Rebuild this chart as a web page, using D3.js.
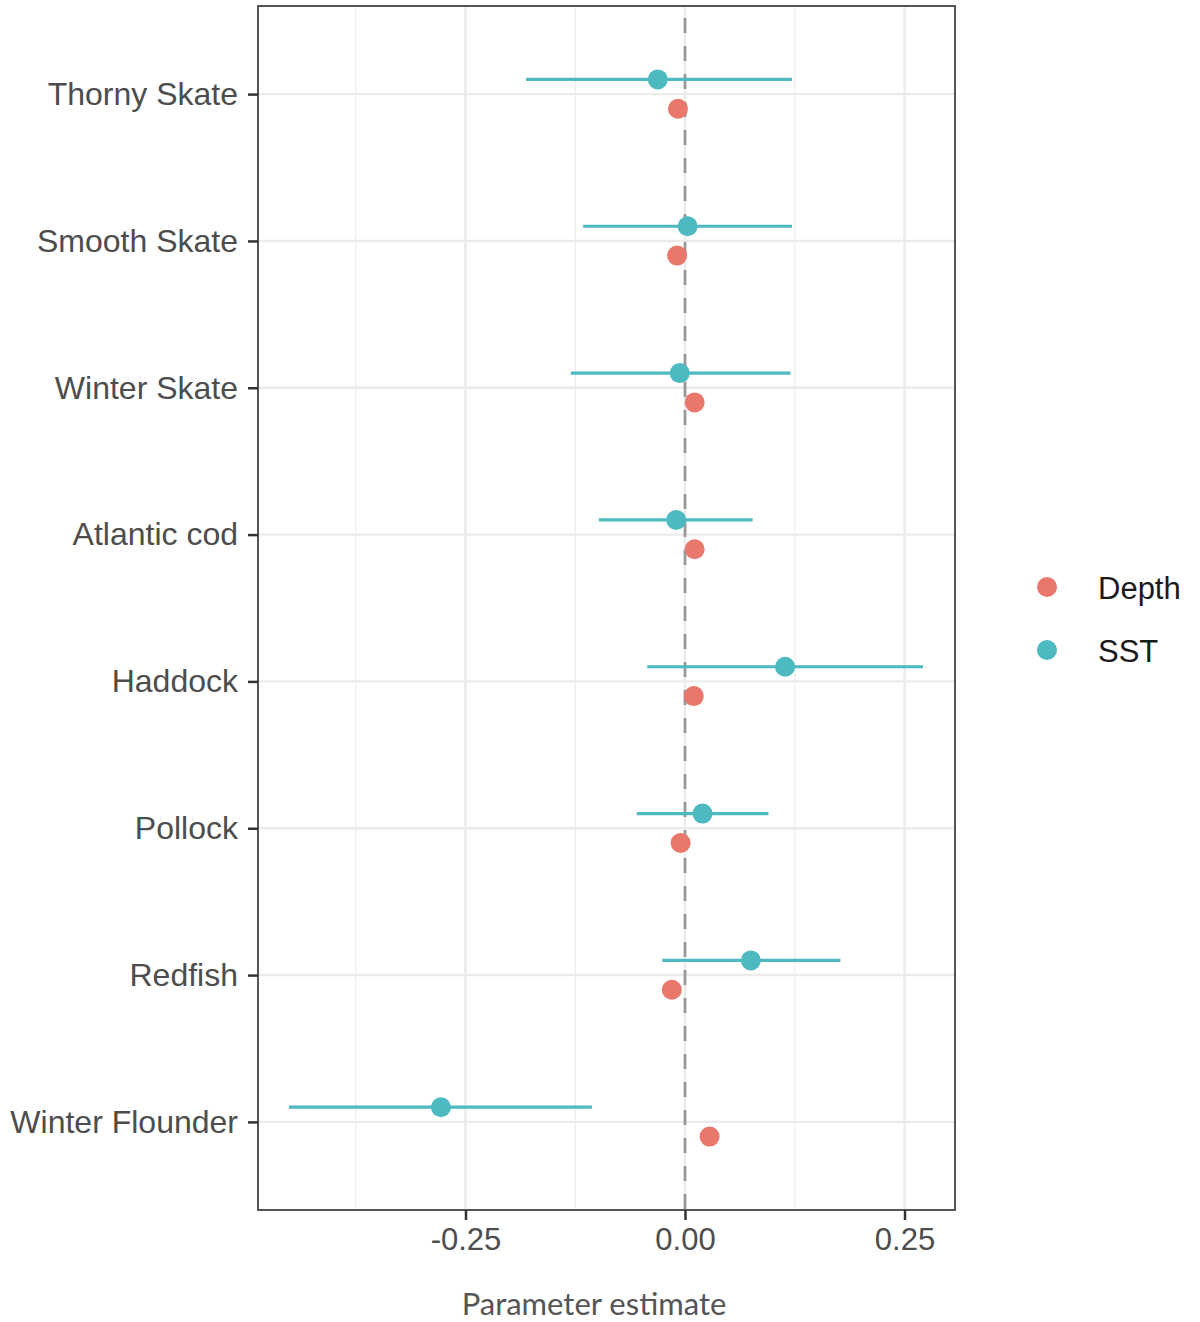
<!DOCTYPE html>
<html>
<head>
<meta charset="utf-8">
<script src="https://cdn.jsdelivr.net/npm/d3@7"></script>
<style>
  html, body { margin: 0; padding: 0; background: #fff; }
  svg { display: block; }
</style>
</head>
<body>
<div id="chart"></div>
<script>
// ---- Data ----
const species = ["Thorny Skate", "Smooth Skate", "Winter Skate", "Atlantic cod", "Haddock", "Pollock", "Redfish", "Winter Flounder"];
const sstEstimate = [-0.031, 0.003, -0.006, -0.010, 0.114, 0.020, 0.075, -0.278];
const sstLower    = [-0.181, -0.116, -0.130, -0.098, -0.043, -0.055, -0.026, -0.451];
const sstUpper    = [0.122, 0.122, 0.120, 0.077, 0.271, 0.095, 0.177, -0.106];
const depthEstimate = [-0.008, -0.009, 0.011, 0.011, 0.010, -0.005, -0.015, 0.028];
const seriesNames = ["Depth", "SST"];
const seriesColors = ["#E9776B", "#4DB9C1"];
const xTicks = [-0.25, 0, 0.25];
const xTickLabels = ["-0.25", "0.00", "0.25"];
const xMinor = [-0.375, -0.125, 0.125];

// ---- Layout ----
const W = 1200, H = 1322;
const panel = { left: 258, right: 955, top: 6, bottom: 1210 };

const svg = d3.select("#chart").append("svg").attr("width", W).attr("height", H);

const x = d3.scaleLinear().domain([-0.4863, 0.3075]).range([panel.left, panel.right]);
const y = d3.scaleLinear().domain([0.4, species.length + 0.6]).range([panel.top, panel.bottom]);
const color = d3.scaleOrdinal().domain(seriesNames).range(seriesColors);
const dodge = 0.1;

// gridlines
const g = svg.append("g");
g.selectAll("line.minor").data(xMinor).join("line")
  .attr("x1", d => x(d)).attr("x2", d => x(d))
  .attr("y1", panel.top).attr("y2", panel.bottom)
  .attr("stroke", "#EBEBEB").attr("stroke-width", 1.2);
g.selectAll("line.majx").data(xTicks).join("line")
  .attr("x1", d => x(d)).attr("x2", d => x(d))
  .attr("y1", panel.top).attr("y2", panel.bottom)
  .attr("stroke", "#EBEBEB").attr("stroke-width", 2.4);
g.selectAll("line.majy").data(species).join("line")
  .attr("x1", panel.left).attr("x2", panel.right)
  .attr("y1", (d, i) => y(i + 1)).attr("y2", (d, i) => y(i + 1))
  .attr("stroke", "#EBEBEB").attr("stroke-width", 2.4);

// zero dashed line
svg.append("line")
  .attr("x1", x(0)).attr("x2", x(0))
  .attr("y1", panel.top).attr("y2", panel.bottom)
  .attr("stroke", "#999").attr("stroke-width", 2.8)
  .attr("stroke-dasharray", "15,13").attr("stroke-dashoffset", -12);

// SST error bars
const sstData = species.map((s, i) => ({ s, i, est: sstEstimate[i], lo: sstLower[i], hi: sstUpper[i] }));
svg.append("g").selectAll("line").data(sstData).join("line")
  .attr("x1", d => x(d.lo)).attr("x2", d => x(d.hi))
  .attr("y1", d => y(d.i + 1 - dodge)).attr("y2", d => y(d.i + 1 - dodge))
  .attr("stroke", color("SST")).attr("stroke-width", 3.2);

// points
svg.append("g").selectAll("circle").data(sstData).join("circle")
  .attr("cx", d => x(d.est)).attr("cy", d => y(d.i + 1 - dodge)).attr("r", 10)
  .attr("fill", color("SST"));
const depthData = species.map((s, i) => ({ s, i, est: depthEstimate[i] }));
svg.append("g").selectAll("circle").data(depthData).join("circle")
  .attr("cx", d => x(d.est)).attr("cy", d => y(d.i + 1 + dodge)).attr("r", 10)
  .attr("fill", color("Depth"));

// panel border
svg.append("rect")
  .attr("x", panel.left).attr("y", panel.top)
  .attr("width", panel.right - panel.left).attr("height", panel.bottom - panel.top)
  .attr("fill", "none").attr("stroke", "#444").attr("stroke-width", 1.8);

// x axis
const xAxis = d3.axisBottom(x).tickValues(xTicks).tickFormat((d, i) => xTickLabels[i]).tickSize(10).tickPadding(8);
const xg = svg.append("g").attr("transform", `translate(0,${panel.bottom})`).call(xAxis);
xg.select(".domain").remove();
xg.selectAll(".tick line").attr("stroke", "#333").attr("stroke-width", 2.5);
xg.selectAll(".tick text").attr("fill", "#4D4D4D")
  .style("font-family", "'Liberation Sans', Arial, sans-serif").style("font-size", "31px");

// y axis
const yAxis = d3.axisLeft(y).tickValues(species.map((s, i) => i + 1)).tickFormat(d => species[d - 1]).tickSize(10).tickPadding(10);
const yg = svg.append("g").attr("transform", `translate(${panel.left},0)`).call(yAxis);
yg.select(".domain").remove();
yg.selectAll(".tick line").attr("stroke", "#333").attr("stroke-width", 2.5);
yg.selectAll(".tick text").attr("fill", "#4D4D4D")
  .style("font-family", "'Liberation Sans', Arial, sans-serif").style("font-size", "32px");

// x axis title
svg.append("text")
  .attr("x", 594).attr("y", 1315).attr("text-anchor", "middle")
  .attr("fill", "#555")
  .style("font-family", "Lato, 'Open Sans', sans-serif").style("font-size", "31px")
  .text("Parameter estimate");

// legend
const leg = svg.append("g");
seriesNames.forEach((name, k) => {
  const cy = 587 + k * 63;
  leg.append("circle").attr("cx", 1047).attr("cy", cy).attr("r", 10).attr("fill", color(name));
  leg.append("text").attr("x", 1098).attr("y", cy + 12)
    .attr("fill", "#1a1a1a")
    .style("font-family", "'Liberation Sans', Arial, sans-serif").style("font-size", "31px")
    .text(name);
});
</script>
</body>
</html>
